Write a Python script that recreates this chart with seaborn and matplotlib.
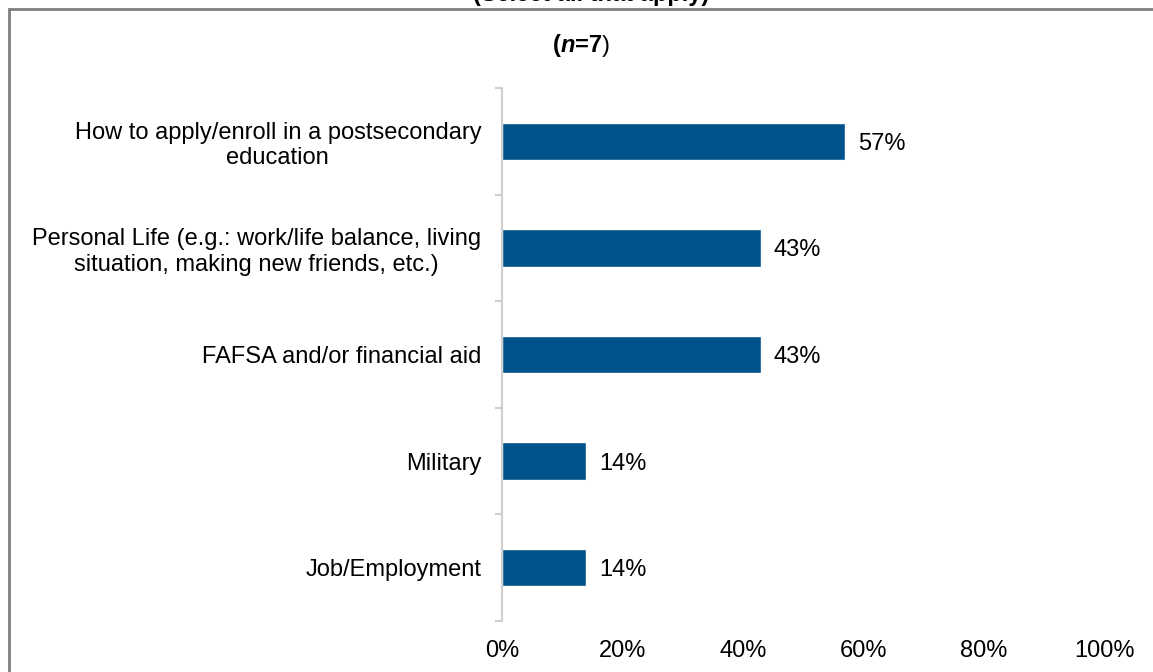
import matplotlib
matplotlib.use("Agg")
import matplotlib.pyplot as plt
import seaborn as sns
import pandas as pd
from matplotlib.patches import Rectangle

# data
categories = [
    "How to apply/enroll in a postsecondary\neducation",
    "Personal Life (e.g.: work/life balance, living\nsituation, making new friends, etc.)",
    "FAFSA and/or financial aid",
    "Military",
    "Job/Employment",
]
percents = [57, 43, 43, 14, 14]
value_labels = ["57%", "43%", "43%", "14%", "14%"]
x_ticks = [0, 20, 40, 60, 80, 100]
x_tick_labels = ["0%", "20%", "40%", "60%", "80%", "100%"]
subtitle_n = "7"

df = pd.DataFrame({"category": categories, "pct": percents})

sns.set_style("white")
plt.rcParams["font.family"] = ["Liberation Sans", "DejaVu Sans"]
plt.rcParams["text.color"] = "black"
plt.rcParams["xtick.color"] = "black"
plt.rcParams["ytick.color"] = "black"

FS = 17

fig = plt.figure(figsize=(11.53, 6.72), dpi=100)
ax = fig.add_axes([502 / 1153, 51 / 672, 602 / 1153, (621 - 88) / 672])

sns.barplot(data=df, x="pct", y="category", orient="h", color="#00538A",
            saturation=1, width=0.35, ax=ax)

ax.set_xlim(0, 100)
ax.set_ylim(4.5, -0.5)
ax.set_xticks(x_ticks)
ax.set_xticklabels(x_tick_labels, fontsize=FS)
ax.tick_params(axis="x", length=0, pad=14)
ax.set_xlabel("")
ax.set_ylabel("")

# category labels centred, ticks at boundaries
ax.tick_params(axis="y", which="major", length=0, pad=15)
for t in ax.get_yticklabels():
    t.set_fontsize(FS)
    t.set_multialignment("center")
ax.set_yticks([i - 0.5 for i in range(len(categories) + 1)], minor=True)
ax.tick_params(axis="y", which="minor", left=True, length=5,
               color="#d0d0d0", width=1.5)

for side in ["top", "right", "bottom"]:
    ax.spines[side].set_visible(False)
ax.spines["left"].set_color("#d0d0d0")
ax.spines["left"].set_linewidth(1.5)

for i, (v, lab) in enumerate(zip(percents, value_labels)):
    ax.annotate(lab, (v, i), xytext=(9, 0), textcoords="offset points",
                ha="left", va="center_baseline", fontsize=FS)

# outer frame (runs past right and bottom edges)
fig.patches.append(Rectangle((8.5 / 1153, -0.1), 1.2, 1.1 - 8.5 / 672,
                             transform=fig.transFigure, fill=False,
                             edgecolor="#7f7f7f", linewidth=2))

# title cut off at the top edge
fig.text(591 / 1153, 1 - 0.5 / 672, "(Select all that apply)", ha="center",
         va="baseline", fontsize=17, fontweight="bold")

# subtitle (n=7)
fig.canvas.draw()
renderer = fig.canvas.get_renderer()
x = 553 / 1153
y = 1 - 52 / 672
for txt, style, weight in [("(", "normal", "bold"), ("n", "italic", "bold"),
                           ("=" + subtitle_n, "normal", "bold"), (")", "normal", "normal")]:
    t = fig.text(x, y, txt, fontsize=FS, fontstyle=style, fontweight=weight,
                 ha="left", va="baseline")
    bb = t.get_window_extent(renderer)
    x += bb.width / fig.bbox.width

fig.savefig("out.png", dpi=100)
